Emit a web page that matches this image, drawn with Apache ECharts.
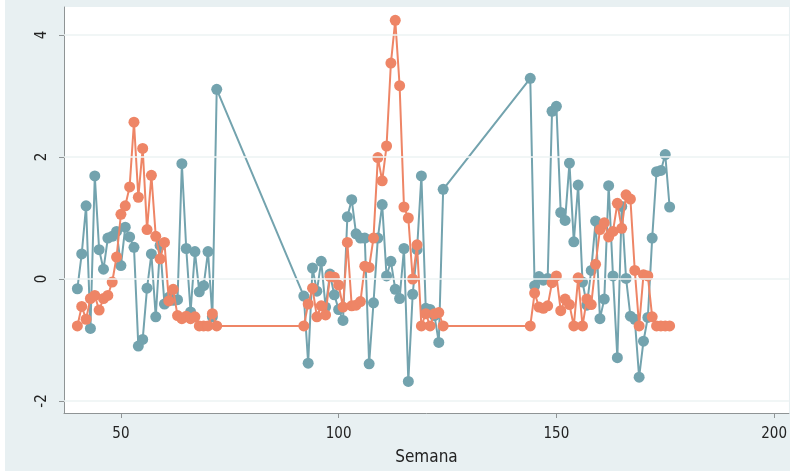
<!DOCTYPE html>
<html>
<head>
<meta charset="utf-8">
<script src="https://cdn.jsdelivr.net/npm/echarts@6/dist/echarts.min.js"></script>
<style>
  html, body { margin: 0; padding: 0; background: #ffffff; }
  #chart { width: 790px; height: 471px; }
</style>
</head>
<body>
<div id="chart"></div>
<script>
// Weeks observed (three seasons)
const weeks = [
  40, 41, 42, 43, 44, 45, 46, 47, 48, 49, 50, 51, 52, 53, 54, 55, 56,
  57, 58, 59, 60, 61, 62, 63, 64, 65, 66, 67, 68, 69, 70, 71, 72,
  92, 93, 94, 95, 96, 97, 98, 99, 100, 101, 102, 103, 104, 105, 106, 107,
  108, 109, 110, 111, 112, 113, 114, 115, 116, 117, 118, 119, 120, 121, 122, 123, 124,
  144, 145, 146, 147, 148, 149, 150, 151, 152, 153, 154, 155, 156, 157, 158, 159,
  160, 161, 162, 163, 164, 165, 166, 167, 168, 169, 170, 171, 172, 173, 174, 175, 176
];

// Standardised series (teal)
const serieA = [
  -0.16, 0.41, 1.20, -0.81, 1.69, 0.48, 0.16, 0.67, 0.70, 0.78, 0.22, 0.85, 0.69, 0.52, -1.10, -0.99, -0.15,
  0.41, -0.62, 0.55, -0.41, -0.30, -0.35, -0.34, 1.89, 0.50, -0.54, 0.45, -0.21, -0.11, 0.45, -0.62, 3.11,
  -0.28, -1.38, 0.18, -0.20, 0.29, -0.46, 0.08, -0.26, -0.50, -0.68, 1.02, 1.30, 0.74, 0.67, 0.67, -1.39,
  -0.39, 0.67, 1.22, 0.05, 0.29, -0.17, -0.32, 0.50, -1.68, -0.25, 0.48, 1.69, -0.48, -0.50, -0.60, -1.04, 1.47,
  3.29, -0.11, 0.04, -0.02, 0.01, 2.75, 2.83, 1.09, 0.96, 1.90, 0.61, 1.54, -0.05, -0.43, 0.14, 0.95,
  -0.65, -0.33, 1.53, 0.05, -1.29, 1.19, 0.01, -0.61, -0.66, -1.61, -1.02, -0.63, 0.67, 1.76, 1.78, 2.04, 1.18
];

// Standardised series (orange)
const serieB = [
  -0.77, -0.45, -0.66, -0.32, -0.27, -0.51, -0.32, -0.27, -0.05, 0.36, 1.06, 1.20, 1.51, 2.57, 1.34, 2.14, 0.81,
  1.70, 0.70, 0.33, 0.60, -0.36, -0.17, -0.60, -0.65, -0.61, -0.65, -0.62, -0.77, -0.77, -0.77, -0.57, -0.77,
  -0.77, -0.41, -0.15, -0.62, -0.44, -0.59, 0.04, 0.03, -0.10, -0.46, 0.60, -0.44, -0.43, -0.37, 0.21, 0.19,
  0.67, 1.99, 1.61, 2.18, 3.54, 4.24, 3.17, 1.18, 1.00, 0.00, 0.56, -0.77, -0.57, -0.77, -0.57, -0.55, -0.77,
  -0.77, -0.23, -0.46, -0.48, -0.44, -0.06, 0.05, -0.52, -0.33, -0.42, -0.77, 0.02, -0.77, -0.33, -0.42, 0.24,
  0.81, 0.92, 0.69, 0.78, 1.24, 0.83, 1.38, 1.31, 0.14, -0.77, 0.07, 0.05, -0.62, -0.77, -0.77, -0.77, -0.77
];

const xTicks = [50, 100, 150, 200];
const yTicks = [-2, 0, 2, 4];
const xTitle = 'Semana';

const FONT = "'Liberation Sans Narrow', 'DejaVu Sans Condensed', 'Liberation Sans', sans-serif";
const TEAL = '#73a3ae';
const ORANGE = '#ee8566';

const chart = echarts.init(document.getElementById('chart'), null, { renderer: 'canvas' });

function pairs(values) {
  return weeks.map((w, i) => [w, values[i]]);
}

function lineSeries(name, values, color, z) {
  return {
    name: name,
    type: 'line',
    data: pairs(values),
    z: z,
    symbol: 'circle',
    symbolSize: 11,
    showSymbol: true,
    lineStyle: { color: color, width: 2 },
    itemStyle: { color: color, borderWidth: 0 },
    emphasis: { disabled: true },
    silent: true
  };
}

chart.setOption({
  animation: false,
  backgroundColor: '#e8f0f2',
  graphic: [{
    type: 'rect',
    left: 0, top: 0,
    shape: { width: 5, height: 471 },
    style: { fill: '#ffffff' },
    silent: true
  }],
  grid: {
    left: 64, right: 0, top: 7, bottom: 58,
    show: true,
    backgroundColor: '#ffffff',
    borderWidth: 0
  },
  xAxis: {
    type: 'value',
    min: 36.93,
    max: 203.4,
    name: xTitle,
    nameLocation: 'middle',
    nameGap: 36,
    nameTextStyle: { fontFamily: FONT, fontSize: 17, color: '#222' },
    axisLine: { show: true, onZero: false, lineStyle: { color: '#8f9495', width: 1 } },
    axisTick: { show: true, customValues: xTicks, length: 5, lineStyle: { color: '#8f9495' } },
    axisLabel: { customValues: xTicks, margin: 14, fontFamily: FONT, fontSize: 15, color: '#222' },
    splitLine: { show: false }
  },
  yAxis: {
    type: 'value',
    min: -2.197,
    max: 4.459,
    axisLine: { show: true, onZero: false, lineStyle: { color: '#8f9495', width: 1 } },
    axisTick: { show: true, customValues: yTicks, length: 5, lineStyle: { color: '#8f9495' } },
    axisLabel: { customValues: yTicks, rotate: 90, margin: 14, fontFamily: FONT, fontSize: 15, color: '#222' },
    splitLine: { show: false }
  },
  series: [
    {
      type: 'line',
      data: [],
      z: 1,
      silent: true,
      markLine: {
        silent: true,
        symbol: ['none', 'none'],
        label: { show: false },
        lineStyle: { color: '#ecf3f3', type: 'solid', width: 1.5 },
        emphasis: { disabled: true },
        data: yTicks.map(v => ({ yAxis: v }))
      }
    },
    lineSeries('A', serieA, TEAL, 2),
    lineSeries('B', serieB, ORANGE, 3)
  ]
});
</script>
</body>
</html>
